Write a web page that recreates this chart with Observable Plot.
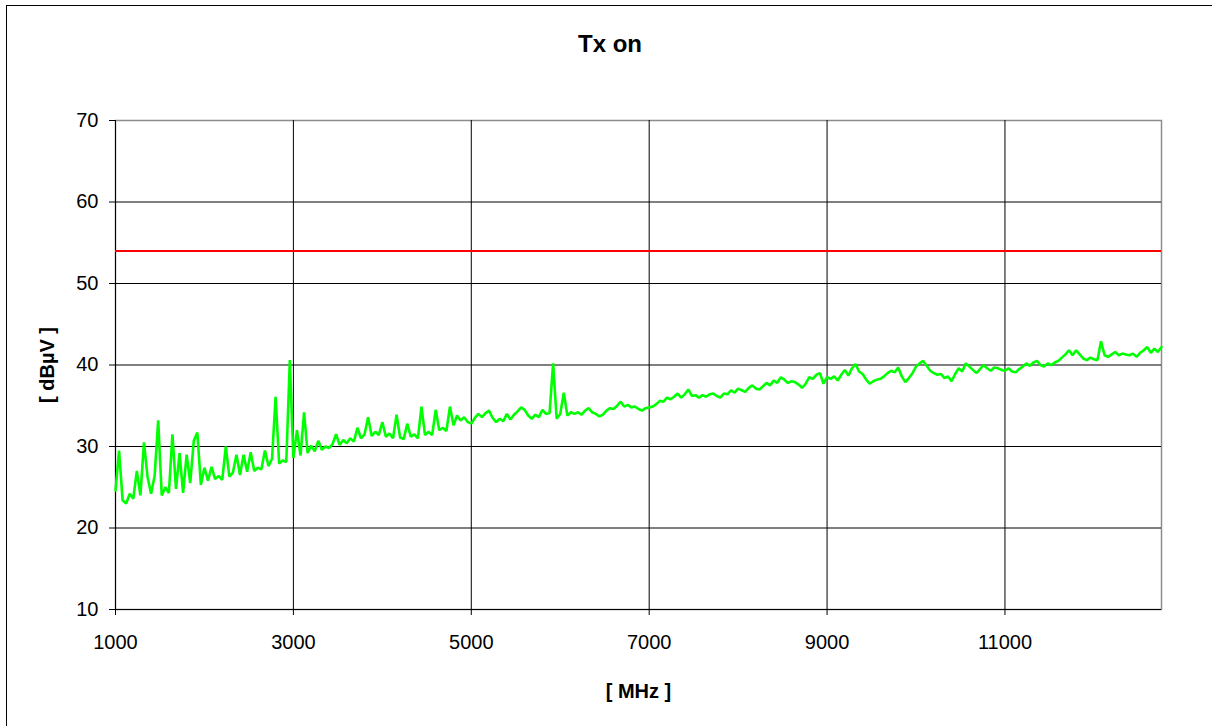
<!DOCTYPE html>
<html>
<head>
<meta charset="utf-8">
<script src="https://cdn.jsdelivr.net/npm/d3@7"></script>
<script src="https://cdn.jsdelivr.net/npm/@observablehq/plot@0.6"></script>
<style>
  html, body { margin: 0; padding: 0; background: #fff; overflow: hidden; width: 1212px; height: 726px; }
  #frame { position: absolute; left: 6px; top: 5px; width: 1300px; height: 900px; border: 1px solid #000; box-sizing: border-box; }
  #title { position: absolute; left: 0; top: 32px; width: 1220px; text-align: center; font: bold 24px/24px "Liberation Sans", Arial, sans-serif; color: #000; }
  #chart { position: absolute; left: 0; top: 70px; }
  #chart svg [aria-label="x-axis label"], #chart svg [aria-label="y-axis label"] { font-weight: bold; }
</style>
</head>
<body>
<div id="frame"></div>
<div id="title">Tx on</div>
<div id="chart"></div>
<script>
// Sweep: start frequency and step in MHz
const sweepStartMHz = 1000;
const sweepStepMHz = 40;

// Measured level, dBµV (one value per sweep step)
const levelDbuv = [
  24.6, 29.5, 23.4, 23.0, 24.2, 23.6, 27.0, 24.0, 30.5, 26.3,
  24.2, 26.4, 33.2, 24.0, 25.0, 24.3, 31.5, 24.8, 29.2, 24.3,
  29.0, 25.5, 30.7, 31.7, 25.3, 27.4, 25.8, 27.5, 26.0, 26.4,
  25.9, 30.0, 26.3, 26.8, 29.0, 26.5, 29.0, 26.9, 29.3, 27.0,
  27.4, 27.2, 29.5, 27.6, 28.5, 36.1, 27.9, 28.3, 28.1, 40.6,
  28.6, 32.0, 28.9, 34.2, 29.2, 30.1, 29.4, 30.7, 29.6, 30.0,
  29.8, 30.3, 31.5, 30.2, 30.8, 30.4, 31.0, 30.6, 32.3, 31.0,
  31.5, 33.6, 31.3, 31.8, 31.4, 33.0, 31.2, 31.6, 31.0, 33.9,
  31.1, 30.9, 32.8, 31.2, 31.5, 31.0, 34.9, 31.4, 31.8, 31.4,
  34.5, 32.0, 32.3, 31.9, 34.9, 32.6, 33.8, 33.2, 33.6, 33.0,
  32.8, 33.5, 34.0, 33.6, 34.1, 34.4, 33.5, 33.0, 33.4, 33.1,
  34.0, 33.3, 33.9, 34.3, 34.8, 34.5, 33.8, 33.4, 33.9, 33.6,
  34.5, 34.0, 34.1, 40.2, 33.4, 34.0, 36.6, 33.8, 34.2, 34.0,
  34.2, 33.9, 34.4, 34.7, 34.2, 34.0, 33.7, 33.9, 34.4, 34.7,
  34.6, 35.0, 35.5, 34.9, 35.1, 34.8, 34.9, 34.6, 34.4, 34.7,
  34.8, 34.9, 35.2, 35.6, 35.5, 36.0, 35.8, 36.1, 36.5, 36.0,
  36.4, 37.0, 36.2, 36.3, 36.0, 36.3, 36.1, 36.4, 36.5, 36.2,
  36.0, 36.5, 36.4, 36.9, 36.6, 37.1, 36.9, 36.7, 37.2, 37.5,
  37.1, 37.0, 37.4, 37.8, 37.5, 38.1, 37.8, 38.5, 38.2, 37.8,
  38.0, 37.9, 37.6, 37.2, 37.7, 38.5, 38.3, 38.8, 39.0, 37.7,
  38.5, 38.3, 38.6, 38.1, 38.8, 39.4, 38.7, 39.6, 40.1, 39.2,
  38.9, 38.2, 37.7, 38.0, 38.2, 38.3, 38.6, 39.0, 39.3, 39.1,
  39.7, 38.6, 37.9, 38.4, 39.0, 39.8, 40.2, 40.5, 39.9, 39.3,
  39.0, 38.8, 38.9, 38.4, 38.6, 38.0, 38.9, 39.6, 39.2, 40.2,
  39.8, 39.4, 39.0, 39.5, 40.0, 39.6, 39.3, 39.7, 39.6, 39.4,
  39.3, 39.6, 39.2, 39.1, 39.5, 39.8, 40.2, 39.9, 40.3, 40.5,
  40.0, 39.8, 40.2, 40.0, 40.3, 40.5, 40.9, 41.3, 41.8, 41.2,
  41.8, 41.3, 40.8, 40.6, 40.9, 40.7, 40.6, 42.9, 41.2, 41.0,
  41.3, 41.6, 41.2, 41.4, 41.3, 41.2, 41.4, 41.0, 41.5, 41.8,
  42.2, 41.5, 42.0, 41.6, 42.2
];

// Limit line, dBµV
const limitDbuv = [54];

// Axes
const xDomain = [1000, 12760];
const xTicks = [1000, 3000, 5000, 7000, 9000, 11000];
const yDomain = [10, 70];
const yTicks = [10, 20, 30, 40, 50, 60, 70];
const yGrid = [10, 20, 30, 40, 50, 60];

const title = "Tx on";
const xLabel = "[ MHz ]";
const yLabel = "[ dBµV ]";

const trace = levelDbuv.map((v, i) => ({mhz: sweepStartMHz + i * sweepStepMHz, level: v}));

const chart = Plot.plot({
  width: 1212,
  height: 656,
  marginTop: 50,
  marginRight: 51,
  marginBottom: 117,
  marginLeft: 115,
  style: {fontFamily: "'Liberation Sans', Arial, sans-serif", fontSize: "20px", background: "transparent", color: "#000", overflow: "visible"},
  x: {domain: xDomain},
  y: {domain: yDomain},
  marks: [
    Plot.frame({stroke: "#8c8c8c", strokeWidth: 1.5}),
    Plot.gridX(xTicks, {stroke: "#000", strokeOpacity: 1, strokeWidth: 1}),
    Plot.gridY(yGrid, {stroke: "#000", strokeOpacity: 1, strokeWidth: 1}),
    Plot.axisX(xTicks, {tickSize: 6, tickPadding: 19, tickFormat: d => String(d), fontSize: 20,
      label: xLabel, labelAnchor: "center", labelOffset: 88, labelArrow: false}),
    Plot.axisY(yTicks, {tickSize: 6, tickPadding: 11, fontSize: 20,
      label: yLabel, labelAnchor: "center", labelOffset: 76, labelArrow: false}),
    Plot.ruleY(limitDbuv, {stroke: "#ff0000", strokeWidth: 2}),
    Plot.line(trace, {x: "mhz", y: "level", stroke: "#00ff00", strokeWidth: 2.6, strokeLinejoin: "miter"})
  ]
});
document.getElementById("chart").appendChild(chart);
document.getElementById("title").textContent = title;
</script>
</body>
</html>
